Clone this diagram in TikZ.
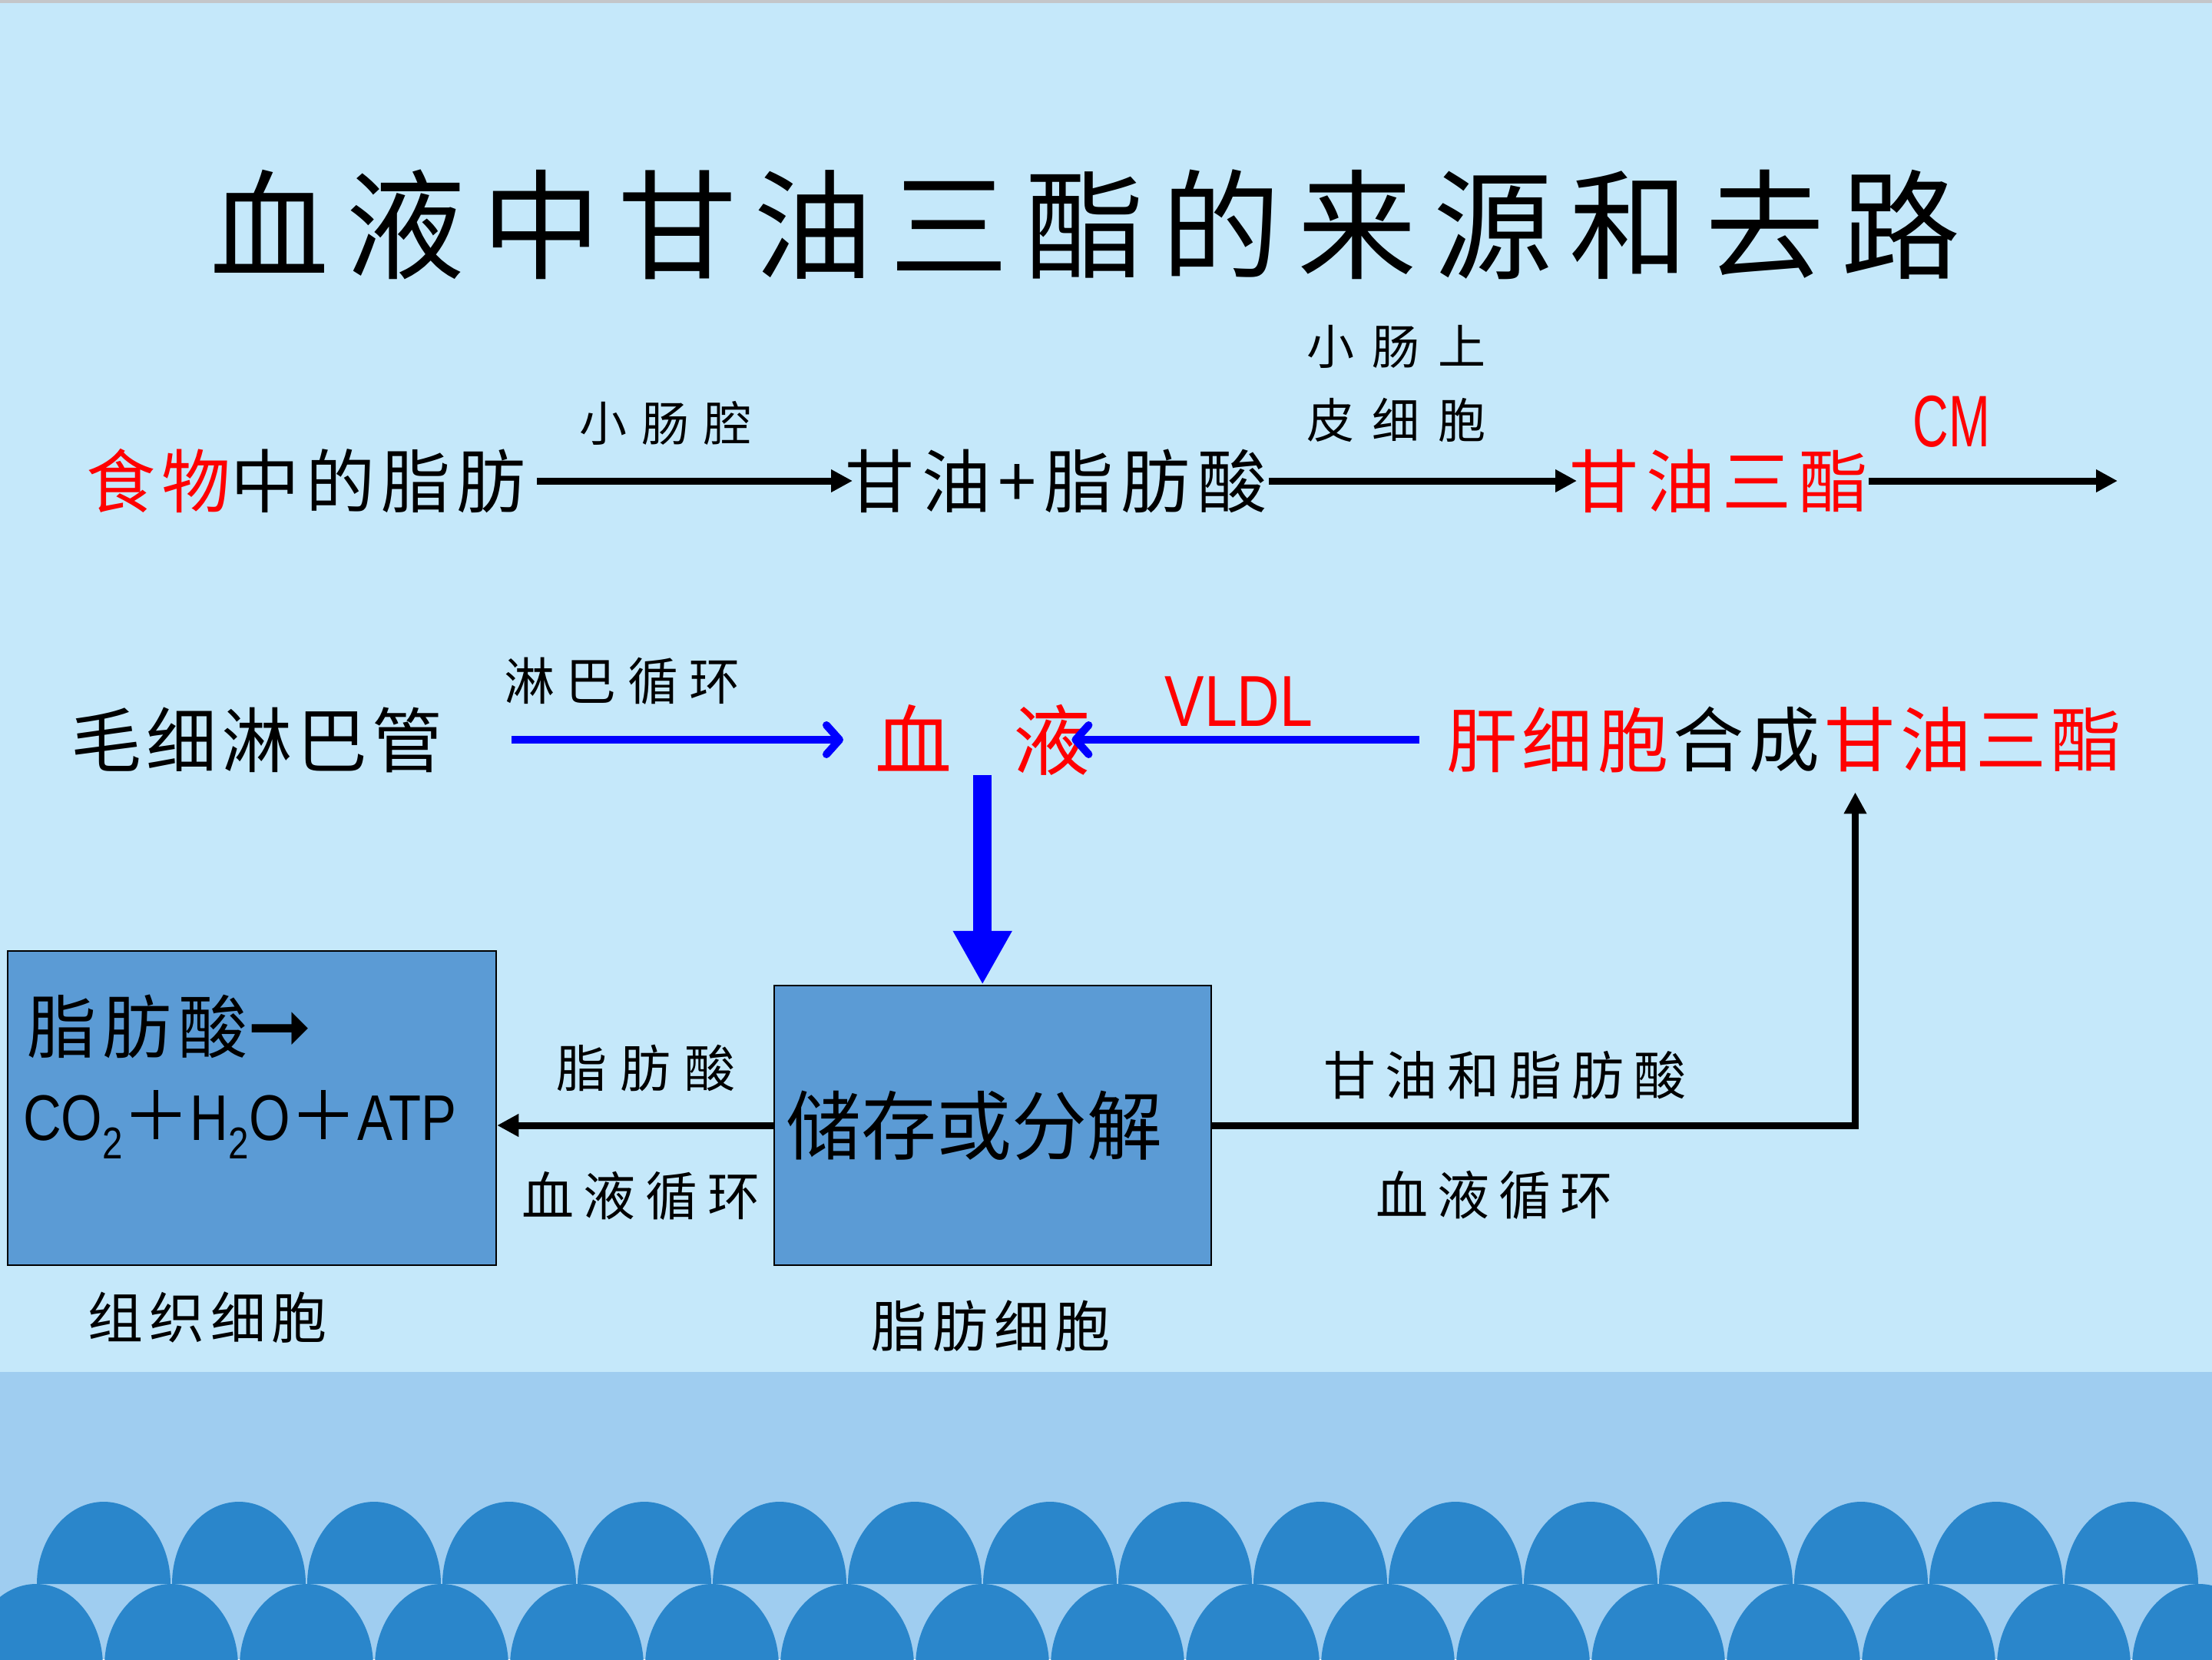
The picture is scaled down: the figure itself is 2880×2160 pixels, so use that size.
\documentclass[tikz,border=0pt]{standalone}
\usepackage{fontspec}
\usetikzlibrary{arrows.meta}
\setmainfont{Noto Sans CJK SC}
\newfontfamily\narrowfont[FakeStretch=0.82]{Liberation Sans}
\newfontfamily\cmfont[FakeStretch=0.68]{Liberation Sans}
\newfontfamily\dejavu{DejaVu Sans}
\newcommand\tf[2]{\fontsize{#1}{#1}\selectfont\addfontfeature{LetterSpace=#2}}
\definecolor{bgblue}{RGB}{197,232,250}
\definecolor{bandblue}{RGB}{159,205,240}
\definecolor{bumpblue}{RGB}{42,134,203}
\definecolor{boxblue}{RGB}{91,155,213}
\definecolor{pred}{RGB}{255,0,0}
\definecolor{pblue}{RGB}{0,0,255}
\definecolor{topgrey}{RGB}{196,198,201}
\tikzset{
  txt/.style={inner sep=0pt, anchor=west},
  blk/.style={line width=9pt, draw=black, -{Triangle[length=28pt,width=28pt]}},
  blu/.style={line width=10pt, draw=pblue, -{Straight Barb[length=17pt,width=38pt,round]}},
  fat/.style={line width=24pt, draw=pblue, -{Triangle[length=70pt,width=72pt]}},
  cellbox/.style={draw=black, line width=2.5pt, fill=boxblue, inner sep=0pt},
  bump/.style={fill=bumpblue}
}
\begin{document}
\begin{tikzpicture}[x=1pt,y=-1pt]
\useasboundingbox (0,0) rectangle (2880,2160);
% background
\fill[bgblue] (0,0) rectangle (2880,2160);
\fill[topgrey] (0,0) rectangle (2880,3.5);
\fill[bandblue] (0,1786) rectangle (2880,2160);
\foreach \k in {0,...,15}{
  \pgfmathsetmacro\cx{135+176*\k}
  \fill[bump] (\cx-87,2062) .. controls (\cx-87,2003) and (\cx-48,1955) .. (\cx,1955)
     .. controls (\cx+48,1955) and (\cx+87,2003) .. (\cx+87,2062) -- cycle;
}
\foreach \k in {0,...,16}{
  \pgfmathsetmacro\cx{47+176*\k}
  \fill[bump] (\cx-87,2169) .. controls (\cx-87,2110) and (\cx-48,2062) .. (\cx,2062)
     .. controls (\cx+48,2062) and (\cx+87,2110) .. (\cx+87,2169) -- cycle;
}
% title
\node[txt] (title) at (273,292) {\tf{155}{14.2}血液中甘油三酯的来源和去路};
% row 1
\node[txt] (food) at (112,626) {\tf{90}{8.9}\textcolor{pred}{食物}中的脂肪};
\node[txt] (gfa) at (1100,626) {\tf{90}{11}甘油+脂肪酸};
\node[txt, text=pred] (tg1) at (2043,626) {\tf{90}{11}甘油三酯};
\coordinate (cmEnd) at (2757,626);
\node[txt] (lumen) at (754,551) {\tf{62}{31}小肠腔};
\node[txt] (epi1) at (1701,451) {\tf{62}{38}小肠上};
\node[txt] (epi2) at (1701,547) {\tf{62}{38}皮细胞};
\node[inner sep=0pt, text=pred] (cm) at (2541,549) {\fontsize{95}{95}\cmfont CM};
\draw[blk, shorten <=15pt, shorten >=-10pt] (food.east) -- (gfa.west);
\draw[blk, shorten <=2pt, shorten >=-10pt] (gfa.east) -- (tg1.west);
\draw[blk] (tg1.east) -- (cmEnd);
% row 2
\node[txt] (lymph) at (92,963) {\tf{92}{6.5}毛细淋巴管};
\node[txt] (lymphlab) at (656,887) {\tf{66}{22}淋巴循环};
\node[txt, text=pred] (blood) at (1139,963) {\tf{100}{0}血\hspace{80pt}液};
\node[inner sep=0pt, text=pred] (vldl) at (1613,913) {\fontsize{94}{94}\narrowfont VLDL};
\node[txt, text=pred] (liver) at (1883,963) {\tf{92}{7}肝细胞};
\node[txt] (synth) at (2178.5,963) {\tf{92}{7}合成};
\node[txt, text=pred] (tg2) at (2375.5,963) {\tf{92}{7}甘油三酯};
\draw[blu, shorten <=90pt, shorten >=41pt] (lymph.east) -- (blood.west);
\draw[blu, shorten <=35pt, shorten >=-24pt] (liver.west) -- (blood.east);
% row 3 boxes
\node[cellbox, minimum width=636pt, minimum height=409pt] (tissue) at (328,1442.5) {};
\node[cellbox, minimum width=569pt, minimum height=364pt, text width=539pt, inner xsep=15pt, align=left] (store) at (1292.5,1465) {\tf{98}{0}储存或分解};
\draw[fat] (blood.south) -- (blood.south |- store.north);
\node[txt] (fa1) at (35,1336) {\tf{90}{9.4}脂肪酸{\dejavu\bfseries\fontsize{100}{100}\selectfont ➞}};
\node[inner sep=0pt, anchor=base west] (prod) at (30,1484) {\fontsize{84}{84}\narrowfont CO\raisebox{-24pt}{\fontsize{58}{58}\selectfont 2}{\fontsize{88}{88}\rmfamily ＋}H\raisebox{-24pt}{\fontsize{58}{58}\selectfont 2}O{\fontsize{88}{88}\rmfamily ＋}ATP};
\node[txt] (tissuelab) at (114,1715) {\tf{72}{11}组织细胞};
\node[txt] (fatlab) at (1134,1726) {\tf{72}{11}脂肪细胞};
% connectors of row 3
\draw[blk] (store.west) -- (store.west -| tissue.east);
\node[txt] (falab) at (724,1390) {\tf{66}{26.5}脂肪酸};
\node[txt] (circ1) at (679,1557) {\tf{68}{18.6}血液循环};
\draw[blk, shorten >=26pt] (store.east) -| ([xshift=40pt]tg2.south west);
\node[txt] (gfalab) at (1723,1400) {\tf{68}{18.8}甘油和脂肪酸};
\node[txt] (circ2) at (1791,1556) {\tf{68}{18}血液循环};
\end{tikzpicture}
\end{document}
